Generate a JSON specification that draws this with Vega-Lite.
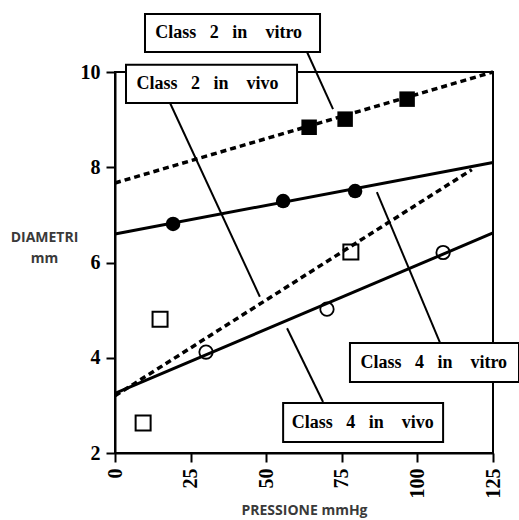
{
  "$schema": "https://vega.github.io/schema/vega-lite/v6.json",
  "width": 378,
  "height": 381,
  "autosize": {"type": "none"},
  "padding": {"left": 115, "top": 72, "right": 26, "bottom": 67},
  "background": "white",
  "config": {
    "view": {"stroke": "black", "strokeWidth": 2},
    "axis": {
      "grid": false,
      "domainColor": "black",
      "domainWidth": 2,
      "tickColor": "black",
      "tickWidth": 2,
      "tickSize": 9,
      "labelFont": "Liberation Serif",
      "labelFontWeight": "bold",
      "labelFontSize": 20,
      "labelColor": "black",
      "titleFont": "Open Sans",
      "titleFontSize": 14,
      "titleFontWeight": "bold",
      "titleColor": "#3a3a3a"
    }
  },
  "encoding": {
    "x": {
      "field": "x",
      "type": "quantitative",
      "scale": {"domain": [0, 125], "nice": false, "zero": false},
      "axis": {
        "values": [0, 25, 50, 75, 100, 125],
        "title": "PRESSIONE mmHg",
        "labelAngle": -90,
        "labelPadding": 6,
        "titleY": 57,
        "titleBaseline": "middle"
      }
    },
    "y": {
      "field": "y",
      "type": "quantitative",
      "scale": {"domain": [2, 10], "nice": false, "zero": false},
      "axis": {
        "values": [2, 4, 6, 8, 10],
        "title": ["DIAMETRI", "mm"],
        "titleAngle": 0,
        "titleX": -71,
        "titleY": 165,
        "titleAlign": "center",
        "titleBaseline": "middle",
        "titleLineHeight": 21,
        "labelPadding": 6
      }
    }
  },
  "layer": [
    {
      "data": {"values": [
        {"s": "c2vivo", "x": 0, "y": 6.6},
        {"s": "c2vivo", "x": 125, "y": 8.1},
        {"s": "c4vivo", "x": 0, "y": 3.25},
        {"s": "c4vivo", "x": 125, "y": 6.62}
      ]},
      "mark": {"type": "line", "color": "black", "strokeWidth": 3},
      "encoding": {"detail": {"field": "s"}}
    },
    {
      "data": {"values": [
        {"s": "c2vitro", "x": 0, "y": 7.67},
        {"s": "c2vitro", "x": 125, "y": 10.0},
        {"s": "c4vitro", "x": 0, "y": 3.2},
        {"s": "c4vitro", "x": 118, "y": 7.95}
      ]},
      "mark": {"type": "line", "color": "black", "strokeWidth": 3.5, "strokeDash": [6, 4]},
      "encoding": {"detail": {"field": "s"}}
    },
    {
      "data": {"values": [
        {"x": 63.5, "y": 10.42, "x2": 72.1, "y2": 9.22},
        {"x": 18.2, "y": 9.35, "x2": 47.9, "y2": 5.28},
        {"x": 86.6, "y": 7.48, "x2": 107.5, "y2": 4.31},
        {"x": 56.9, "y": 4.62, "x2": 68.8, "y2": 3.07}
      ]},
      "mark": {"type": "rule", "color": "black", "strokeWidth": 2},
      "encoding": {"x2": {"field": "x2"}, "y2": {"field": "y2"}}
    },
    {
      "data": {"values": [
        {"x": 64.2, "y": 8.84},
        {"x": 76.1, "y": 9.01},
        {"x": 96.6, "y": 9.43}
      ]},
      "mark": {"type": "point", "shape": "square", "filled": true, "color": "black", "opacity": 1, "size": 240}
    },
    {
      "data": {"values": [
        {"x": 19.2, "y": 6.81},
        {"x": 55.6, "y": 7.29},
        {"x": 79.4, "y": 7.5}
      ]},
      "mark": {"type": "point", "shape": "circle", "filled": true, "color": "black", "opacity": 1, "size": 210}
    },
    {
      "data": {"values": [
        {"x": 9.3, "y": 2.63},
        {"x": 14.9, "y": 4.81},
        {"x": 78.0, "y": 6.22}
      ]},
      "mark": {"type": "point", "shape": "square", "filled": false, "color": "black", "opacity": 1, "strokeWidth": 2, "size": 225}
    },
    {
      "data": {"values": [
        {"x": 30.1, "y": 4.12},
        {"x": 70.1, "y": 5.02},
        {"x": 108.5, "y": 6.21}
      ]},
      "mark": {"type": "point", "shape": "circle", "filled": false, "color": "black", "opacity": 1, "strokeWidth": 1.8, "size": 180}
    },
    {
      "data": {"values": [
        {"x": 9.92, "y": 11.22, "x2": 67.8, "y2": 10.42},
        {"x": 3.64, "y": 10.15, "x2": 60.2, "y2": 9.35},
        {"x": 77.7, "y": 4.31, "x2": 133.6, "y2": 3.49},
        {"x": 55.6, "y": 3.05, "x2": 108.5, "y2": 2.23}
      ]},
      "mark": {"type": "rect", "fill": "white", "stroke": "black", "strokeWidth": 2, "clip": false},
      "encoding": {"x2": {"field": "x2"}, "y2": {"field": "y2"}}
    },
    {
      "data": {"values": [
        {"x": 37.6, "y": 10.81, "label": "Class\u00a0\u00a0\u00a02\u00a0\u00a0\u00a0in\u00a0\u00a0\u00a0\u00a0vitro"},
        {"x": 30.6, "y": 9.74, "label": "Class\u00a0\u00a0\u00a02\u00a0\u00a0\u00a0in\u00a0\u00a0\u00a0\u00a0vivo"},
        {"x": 105.4, "y": 3.9, "label": "Class\u00a0\u00a0\u00a04\u00a0\u00a0\u00a0in\u00a0\u00a0\u00a0\u00a0vitro"},
        {"x": 81.9, "y": 2.64, "label": "Class\u00a0\u00a0\u00a04\u00a0\u00a0\u00a0in\u00a0\u00a0\u00a0\u00a0vivo"}
      ]},
      "mark": {"type": "text", "font": "Liberation Serif", "fontWeight": "bold", "fontSize": 18, "color": "black", "align": "center", "baseline": "middle"},
      "encoding": {"text": {"field": "label"}}
    }
  ]
}
